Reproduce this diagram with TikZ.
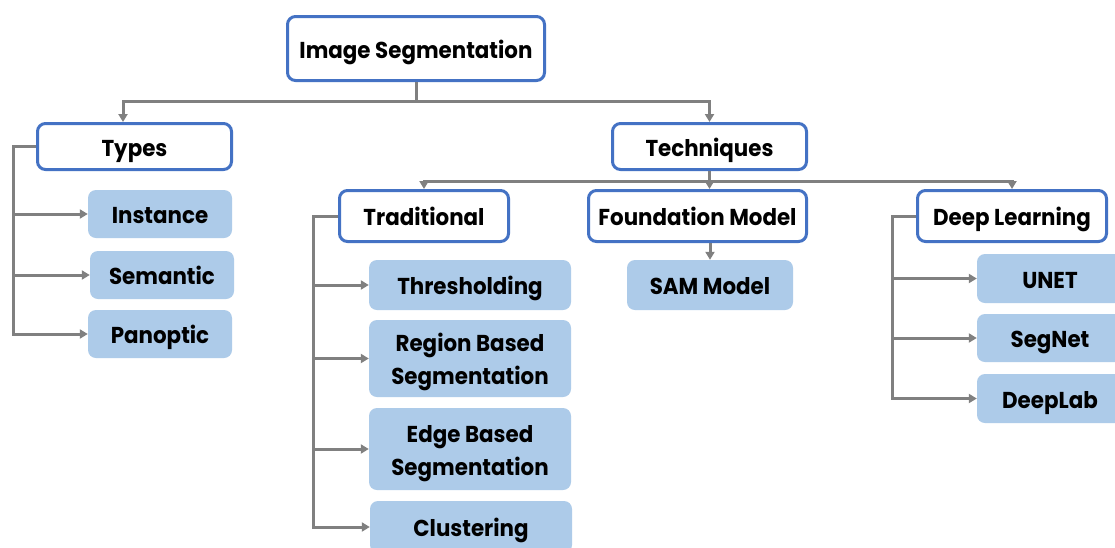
\documentclass[tikz,border=0pt]{standalone}
\usepackage{fontspec}
\setmainfont{Poppins}[FakeStretch=0.93]
\usetikzlibrary{arrows.meta,calc}
\definecolor{edgeblue}{HTML}{4472C4}
\definecolor{leafblue}{HTML}{ADCBE9}
\definecolor{linkgray}{HTML}{808080}
\begin{document}
\begin{tikzpicture}[x=1pt,y=-1pt,
  font=\fontsize{23}{33}\selectfont\bfseries,
  box/.style={rounded corners=8pt, inner sep=0pt, align=center,
              text height=21pt, text depth=2pt},
  twolines/.style={text height=54pt},
  head/.style={box, draw=edgeblue, line width=3pt, fill=white},
  leaf/.style={box, fill=leafblue},
  link/.style={draw=linkgray, line width=3pt},
  arr/.style={link, -{Triangle[length=8pt,width=9pt]}}]
\clip (0,0) rectangle (1115,547);
\fill[white] (0,0) rectangle (1115,547);

% root and first level
\node[head, minimum width=257pt, minimum height=64pt] (root) at (416,48.5) {Image Segmentation};
\node[head, minimum width=194pt, minimum height=46pt] (types) at (134.5,146.5) {Types};
\node[head, minimum width=194pt, minimum height=46pt] (tech) at (709.5,146.5) {Techniques};

% kinds of segmentation
\node[leaf, minimum width=144pt, minimum height=48pt] (inst) at (160,214) {Instance};
\node[leaf, minimum width=144pt, minimum height=48pt] (sem) at (162,275) {Semantic};
\node[leaf, minimum width=144pt, minimum height=48pt] (pan) at (160,334) {Panoptic};

% technique families
\node[head, minimum width=169pt, minimum height=51pt] (trad) at (424,216) {Traditional};
\node[head, minimum width=218pt, minimum height=51pt] (found) at (697.5,216) {Foundation Model};
\node[head, minimum width=189pt, minimum height=51pt] (deep) at (1012,216) {Deep Learning};

% traditional methods
\node[leaf, minimum width=202pt, minimum height=50pt] (thr) at (470,285) {Thresholding};
\node[leaf, twolines, minimum width=202pt, minimum height=77pt] (reg) at (470,358.5) {Region Based\\Segmentation};
\node[leaf, twolines, minimum width=202pt, minimum height=82pt] (edge) at (470,449) {Edge Based\\Segmentation};
\node[leaf, minimum width=202pt, minimum height=52pt] (clus) at (471,527) {Clustering};

% foundation model
\node[leaf, minimum width=166pt, minimum height=50pt] (sam) at (710,285) {SAM Model};

% deep learning models
\node[leaf, minimum width=146pt, minimum height=49pt] (unet) at (1050,278.5) {UNET};
\node[leaf, minimum width=146pt, minimum height=48pt] (segnet) at (1050,338) {SegNet};
\node[leaf, minimum width=146pt, minimum height=49pt] (deeplab) at (1050,398.5) {DeepLab};

% root branches
\draw[link] (root.south) -- ++(0,19) coordinate (rj);
\draw[arr] (rj) -| ($(types.north)+(-11.5,0)$);
\draw[arr] (rj) -| (tech.north);

% techniques branches
\draw[link] (tech.south) -- ++(0,10) coordinate (tj);
\draw[arr] (tj) -| (trad.north);
\draw[arr] (tj) -| (deep.north);
\draw[arr] (tj) -- (tj |- found.north);

% types bracket
\foreach \c in {inst,sem,pan}
  \draw[arr] (types.west) -- ++(-23,0) |- (\c.west);

% traditional bracket
\foreach \c in {thr,reg,edge,clus}
  \draw[arr] (trad.west) -- ++(-25,0) |- (\c.west);

% deep learning bracket
\foreach \c in {unet,segnet,deeplab}
  \draw[arr] (deep.west) -- ++(-24,0) |- (\c.west);

% foundation model to SAM
\draw[arr] (sam.north |- found.south) -- (sam.north);
\end{tikzpicture}
\end{document}
